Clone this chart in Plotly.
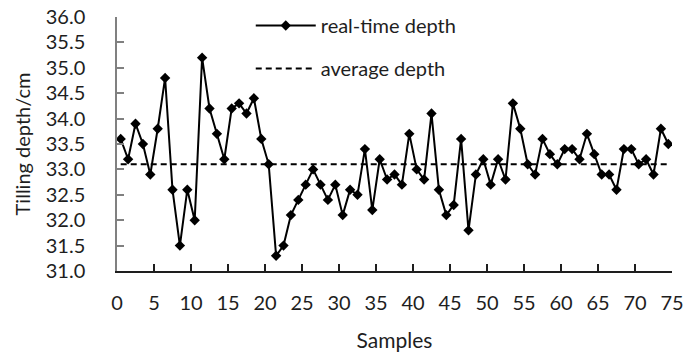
import plotly.graph_objects as go

samples = [i + 0.5 for i in range(75)]
depth = [33.6, 33.2, 33.9, 33.5, 32.9, 33.8, 34.8, 32.6, 31.5, 32.6,
         32.0, 35.2, 34.2, 33.7, 33.2, 34.2, 34.3, 34.1, 34.4, 33.6,
         33.1, 31.3, 31.5, 32.1, 32.4, 32.7, 33.0, 32.7, 32.4, 32.7,
         32.1, 32.6, 32.5, 33.4, 32.2, 33.2, 32.8, 32.9, 32.7, 33.7,
         33.0, 32.8, 34.1, 32.6, 32.1, 32.3, 33.6, 31.8, 32.9, 33.2,
         32.7, 33.2, 32.8, 34.3, 33.8, 33.1, 32.9, 33.6, 33.3, 33.1,
         33.4, 33.4, 33.2, 33.7, 33.3, 32.9, 32.9, 32.6, 33.4, 33.4,
         33.1, 33.2, 32.9, 33.8, 33.5]
average = 33.1
avg_line = [average] * len(samples)
x_ticks = list(range(0, 76, 5))
y_ticks = [31.0, 31.5, 32.0, 32.5, 33.0, 33.5, 34.0, 34.5, 35.0, 35.5, 36.0]

FONT = "Lato"
TXT = "#1e1e1e"

fig = go.Figure()
fig.add_trace(go.Scatter(
    x=samples, y=depth, mode="lines+markers", name="real-time depth",
    line=dict(color="black", width=2),
    marker=dict(symbol="diamond", size=8, color="black"),
    legendgroup="a",
))
fig.add_trace(go.Scatter(
    x=samples, y=avg_line, mode="lines", name="average depth",
    line=dict(color="black", width=2, dash="6px,4px"),
    legendgroup="b",
))

fig.update_layout(
    width=685, height=356,
    margin=dict(l=117, r=13, t=0, b=85, autoexpand=False),
    paper_bgcolor="white", plot_bgcolor="white",
    font=dict(family=FONT, size=20, color=TXT),
    showlegend=True,
    legend=dict(x=0.241, y=0.978, xanchor="left", yanchor="top",
                bgcolor="rgba(0,0,0,0)", tracegroupgap=14,
                font=dict(family=FONT, size=20, color=TXT),
                itemwidth=60),
    xaxis=dict(
        range=[0, 75], tickvals=x_ticks, ticktext=[str(v) for v in x_ticks],
        showline=True, linecolor="#1e1e1e", linewidth=1.5,
        ticks="inside", ticklen=7, tickcolor="#1e1e1e", tickwidth=1.5,
        ticklabelstandoff=13, automargin=False,
        showgrid=False, zeroline=False,
        title=dict(text="Samples", font=dict(family=FONT, size=21), standoff=21),
        tickfont=dict(family=FONT, size=20),
    ),
    yaxis=dict(
        domain=[0, 254 / 271],
        range=[31, 36], tickvals=y_ticks, ticktext=[f"{v:.1f}" for v in y_ticks],
        showline=True, linecolor="#808080", linewidth=1.5,
        ticks="inside", ticklen=7, tickcolor="#808080", tickwidth=1.5,
        ticklabelstandoff=26, automargin=False,
        showgrid=False, zeroline=False,
        title=dict(text="Tilling depth/cm", font=dict(family=FONT, size=20), standoff=10),
        tickfont=dict(family=FONT, size=20),
    ),
)

fig.write_html(
    "out.html",
    config={"displayModeBar": False},
    post_script="document.body.style.margin='0';document.body.style.padding='0';",
)
